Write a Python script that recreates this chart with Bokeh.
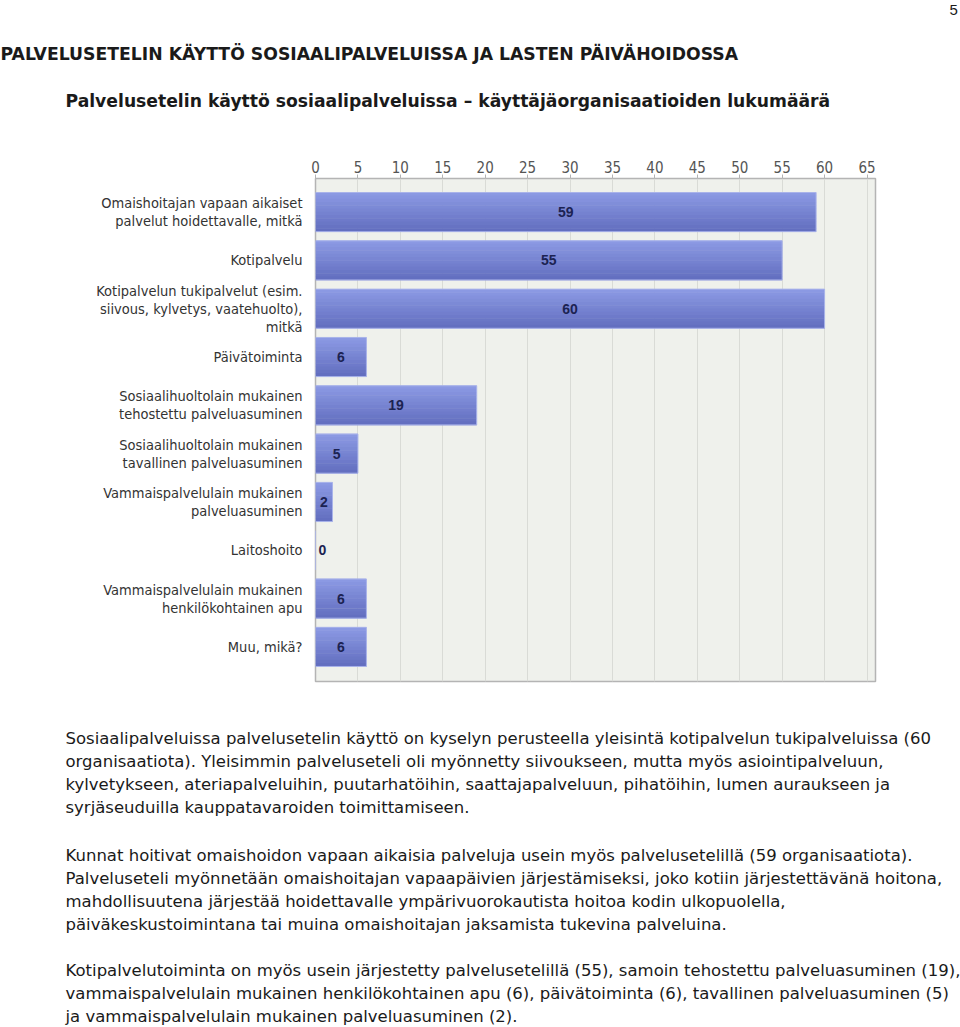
from bokeh.plotting import figure
from bokeh.models import Range1d, FixedTicker, Title
from bokeh.embed import file_html
from bokeh.resources import INLINE
from bokeh.core.properties import value

# ---------------- data ----------------
categories = [
    "Omaishoitajan vapaan aikaiset\npalvelut hoidettavalle, mitkä",
    "Kotipalvelu",
    "Kotipalvelun tukipalvelut (esim.\nsiivous, kylvetys, vaatehuolto),\nmitkä",
    "Päivätoiminta",
    "Sosiaalihuoltolain mukainen\ntehostettu palveluasuminen",
    "Sosiaalihuoltolain mukainen\ntavallinen palveluasuminen",
    "Vammaispalvelulain mukainen\npalveluasuminen",
    "Laitoshoito",
    "Vammaispalvelulain mukainen\nhenkilökohtainen apu",
    "Muu, mikä?",
]
counts = [59, 55, 60, 6, 19, 5, 2, 0, 6, 6]
x_ticks = [0, 5, 10, 15, 20, 25, 30, 35, 40, 45, 50, 55, 60, 65]

page_number = "5"
heading = "PALVELUSETELIN KÄYTTÖ SOSIAALIPALVELUISSA JA LASTEN PÄIVÄHOIDOSSA"
chart_title = "Palvelusetelin käyttö sosiaalipalveluissa – käyttäjäorganisaatioiden lukumäärä"
paragraph1 = [
    "Sosiaalipalveluissa palvelusetelin käyttö on kyselyn perusteella yleisintä kotipalvelun tukipalveluissa (60",
    "organisaatiota). Yleisimmin palveluseteli oli myönnetty siivoukseen, mutta myös asiointipalveluun,",
    "kylvetykseen, ateriapalveluihin, puutarhatöihin, saattajapalveluun, pihatöihin, lumen auraukseen ja",
    "syrjäseuduilla kauppatavaroiden toimittamiseen.",
]
paragraph2 = [
    "Kunnat hoitivat omaishoidon vapaan aikaisia palveluja usein myös palvelusetelillä (59 organisaatiota).",
    "Palveluseteli myönnetään omaishoitajan vapaapäivien järjestämiseksi, joko kotiin järjestettävänä hoitona,",
    "mahdollisuutena järjestää hoidettavalle ympärivuorokautista hoitoa kodin ulkopuolella,",
    "päiväkeskustoimintana tai muina omaishoitajan jaksamista tukevina palveluina.",
]
paragraph3 = [
    "Kotipalvelutoiminta on myös usein järjestetty palvelusetelillä (55), samoin tehostettu palveluasuminen (19),",
    "vammaispalvelulain mukainen henkilökohtainen apu (6), päivätoiminta (6), tavallinen palveluasuminen (5)",
    "ja vammaispalvelulain mukainen palveluasuminen (2).",
]

LIB = "Liberation Sans"
COND = "DejaVu Sans Condensed"
DEJA = "DejaVu Sans"
TEXT_COLOR = "#1a1a1a"

FRAME_LEFT = 315
FRAME_RIGHT_GAP = 85

# ---------------- chart ----------------
idx = list(range(len(categories)))
p = figure(width=960, height=1027,
           x_range=Range1d(0, 66), y_range=Range1d(9.716, -0.695),
           x_axis_location="above",
           min_border=0, min_border_left=FRAME_LEFT, min_border_right=FRAME_RIGHT_GAP,
           toolbar_location=None, output_backend="svg")
p.background_fill_color = "#eff1ec"
p.border_fill_color = "white"
p.outline_line_color = "#b4b4b4"
p.outline_line_width = 1.5

p.xaxis.ticker = FixedTicker(ticks=x_ticks)
p.xaxis.axis_line_color = None
p.xaxis.major_tick_in = 0
p.xaxis.major_tick_out = 4
p.xaxis.major_tick_line_color = "#b4b4b4"
p.xaxis.minor_tick_line_color = None
p.xaxis.major_label_text_font = COND
p.xaxis.major_label_text_font_size = "15px"
p.xaxis.major_label_text_color = "#555555"
p.xaxis.major_label_standoff = 2

p.yaxis.ticker = FixedTicker(ticks=idx)
p.yaxis.major_label_overrides = {i: c for i, c in zip(idx, categories)}
p.yaxis.axis_line_color = None
p.yaxis.major_tick_line_color = None
p.yaxis.minor_tick_line_color = None
p.yaxis.major_label_text_font = COND
p.yaxis.major_label_text_font_size = "14.5px"
p.yaxis.major_label_text_line_height = 1.12
p.yaxis.major_label_text_color = "#333333"
p.yaxis.major_label_standoff = 7

p.xgrid.ticker = FixedTicker(ticks=x_ticks)
p.xgrid.grid_line_color = "#d9dbd6"
p.ygrid.grid_line_color = None

# bars with a vertical gradient imitation (strips from light top to darker bottom)
BAR_H = 0.81
N_STRIPS = 12
top_rgb = (0x8b, 0x99, 0xe3)
bot_rgb = (0x63, 0x6f, 0xc0)
for k in range(N_STRIPS):
    t = k / (N_STRIPS - 1)
    rgb = tuple(int(round(a + (b - a) * t)) for a, b in zip(top_rgb, bot_rgb))
    col = "#%02x%02x%02x" % rgb
    ys = [i - BAR_H / 2 + (k + 0.5) * BAR_H / N_STRIPS for i in idx]
    p.hbar(y=ys, left=0, right=counts, height=BAR_H / N_STRIPS * 1.15,
           fill_color=col, line_color=None)
p.hbar(y=idx, left=0, right=counts, height=BAR_H, fill_color=None,
       line_color="#a9b3ea", line_width=1)

# value labels
pos = [(i, v) for i, v in zip(idx, counts) if v > 0]
zero = [(i, v) for i, v in zip(idx, counts) if v == 0]
p.text(x=[v / 2 for i, v in pos], y=[i for i, v in pos], text=[str(v) for i, v in pos],
       text_align="center", text_baseline="middle", text_font=value(LIB),
       text_font_size="14px", text_font_style="bold", text_color="#1c2352")
p.text(x=[v for i, v in zero], y=[i for i, v in zero], text=[str(v) for i, v in zero],
       x_offset=3, text_align="left", text_baseline="middle", text_font=value(LIB),
       text_font_size="14px", text_font_style="bold", text_color="#1c2352")


# ---------------- page texts as stacked titles ----------------
def title(text, font, size, standoff, left_px, bold=False):
    return Title(text=text, text_font=font, text_font_size=size,
                 text_font_style="bold" if bold else "normal", text_color=TEXT_COLOR,
                 align="left", vertical_align="middle", offset=left_px - FRAME_LEFT,
                 standoff=standoff)


def spacer(standoff, size="10px"):
    return Title(text=" ", text_font=LIB, text_font_size=size, standoff=standoff,
                 align="left", vertical_align="middle")


# above: first added is nearest the frame (after the axis)
p.add_layout(spacer(30.5), "above")
p.add_layout(title(chart_title, DEJA, "17.2px", 3.95, 65, bold=True), "above")
p.add_layout(title(heading, DEJA, "17.25px", 45.9, 0, bold=True), "above")
p.add_layout(title(page_number, LIB, "15px", 7.2, 949), "above")

# below: first added is nearest the frame
BODY_SIZE = "16.5px"
LINE_STANDOFF = 2.0
p.add_layout(spacer(32.2), "below")
for k, para in enumerate([paragraph1, paragraph2, paragraph3]):
    if k == 1:
        p.add_layout(spacer(11.6), "below")
    if k == 2:
        p.add_layout(spacer(10.0), "below")
    for line in para:
        p.add_layout(title(line, DEJA, BODY_SIZE, LINE_STANDOFF, 65), "below")

open("out.html", "w").write(file_html(p, INLINE))
